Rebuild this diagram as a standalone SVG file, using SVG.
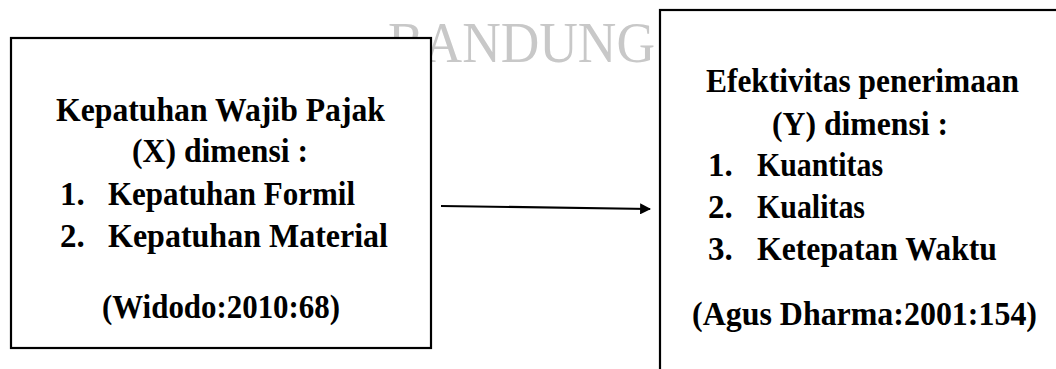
<svg xmlns="http://www.w3.org/2000/svg" width="1056" height="369" viewBox="0 0 1056 369">
  <style>
    .box { fill: #ffffff; stroke: #000000; stroke-width: 2.2; }
    .t { font-family: "Liberation Serif", "Times New Roman", serif; font-weight: bold; font-size: 33px; fill: #000000; }
    .wm { font-family: "Liberation Serif", "Times New Roman", serif; font-size: 58px; fill: #c8c8c8; }
    .conn { stroke: #000000; stroke-width: 2.2; fill: none; }
  </style>
  <defs>
    <marker id="arrow" viewBox="0 0 10 10" refX="9" refY="5" markerWidth="5" markerHeight="5" orient="auto" markerUnits="strokeWidth">
      <path d="M0,0 L10,5 L0,10 Z" fill="#000000"/>
    </marker>
  </defs>
  <rect width="1056" height="369" fill="#ffffff"/>
  <text class="wm" x="388" y="62" textLength="267" lengthAdjust="spacingAndGlyphs">BANDUNG</text>

  <g id="node-x">
    <rect class="box" x="11" y="38" width="420" height="310"/>
    <text class="t" x="56" y="121" textLength="329" lengthAdjust="spacingAndGlyphs">Kepatuhan Wajib Pajak</text>
    <text class="t" x="132" y="162" textLength="176" lengthAdjust="spacingAndGlyphs">(X) dimensi :</text>
    <text class="t" x="60" y="205">1.</text>
    <text class="t" x="108" y="205" textLength="247" lengthAdjust="spacingAndGlyphs">Kepatuhan Formil</text>
    <text class="t" x="60" y="247">2.</text>
    <text class="t" x="108" y="247" textLength="280" lengthAdjust="spacingAndGlyphs">Kepatuhan Material</text>
    <text class="t" x="102" y="318" textLength="238" lengthAdjust="spacingAndGlyphs">(Widodo:2010:68)</text>
  </g>

  <g id="node-y">
    <rect class="box" x="660" y="10" width="420" height="400"/>
    <text class="t" x="706" y="92" textLength="313" lengthAdjust="spacingAndGlyphs">Efektivitas penerimaan</text>
    <text class="t" x="772" y="135" textLength="176" lengthAdjust="spacingAndGlyphs">(Y) dimensi :</text>
    <text class="t" x="708" y="176">1.</text>
    <text class="t" x="757" y="176" textLength="126" lengthAdjust="spacingAndGlyphs">Kuantitas</text>
    <text class="t" x="708" y="218">2.</text>
    <text class="t" x="757" y="218" textLength="108" lengthAdjust="spacingAndGlyphs">Kualitas</text>
    <text class="t" x="708" y="260">3.</text>
    <text class="t" x="757" y="260" textLength="240" lengthAdjust="spacingAndGlyphs">Ketepatan Waktu</text>
    <text class="t" x="692" y="325" textLength="345" lengthAdjust="spacingAndGlyphs">(Agus Dharma:2001:154)</text>
  </g>

  <g id="connectors">
    <line class="conn" x1="441" y1="206" x2="650" y2="209" marker-end="url(#arrow)"/>
  </g>
</svg>
